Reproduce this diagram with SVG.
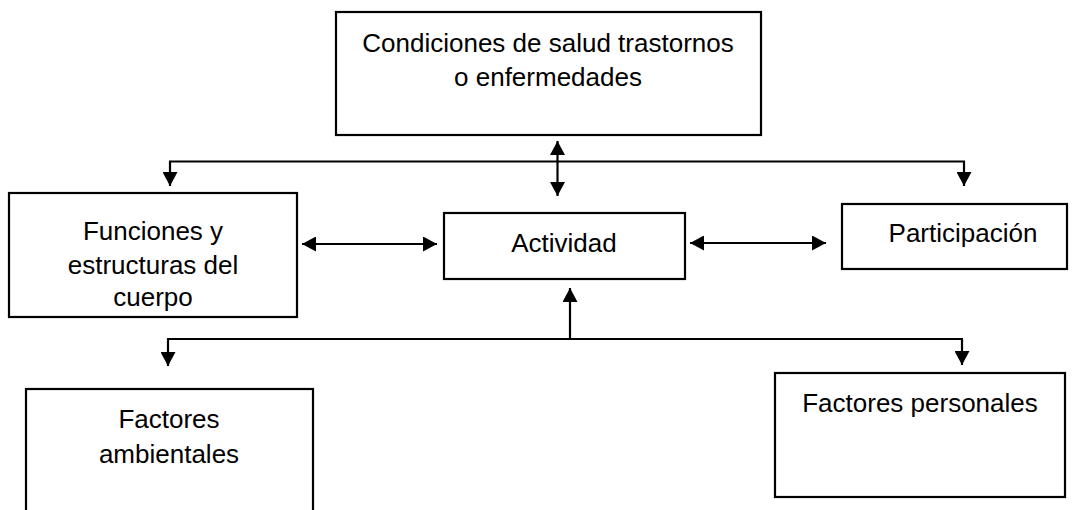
<svg xmlns="http://www.w3.org/2000/svg" width="1075" height="510" viewBox="0 0 1075 510">
<defs>
<marker id="ah" markerUnits="userSpaceOnUse" markerWidth="14" markerHeight="15" refX="14" refY="7.5" orient="auto-start-reverse">
<path d="M0,0 L14,7.5 L0,15 Z" fill="#000"/>
</marker>
<style>
.box{fill:#fff;stroke:#000;stroke-width:2.2}
.lbl{font-family:"Liberation Sans",Arial,sans-serif;font-size:26px;fill:#000;text-anchor:middle}
.ln{fill:none;stroke:#000;stroke-width:2.2}
.arr{fill:none;stroke:#000;stroke-width:2.2;marker-end:url(#ah)}
.darr{fill:none;stroke:#000;stroke-width:2.2;marker-start:url(#ah);marker-end:url(#ah)}
</style>
</defs>
<rect width="1075" height="510" fill="#fff"/>
<g id="connectors">
<path class="ln" d="M169,161.5 H965"/>
<path class="arr" d="M170,161.5 V186"/>
<path class="arr" d="M964,161.5 V186"/>
<path class="darr" d="M557.5,141 V196"/>
<path class="darr" d="M302,244 H437"/>
<path class="darr" d="M690,243 H826"/>
<path class="arr" d="M570,339 V288"/>
<path class="ln" d="M167,339 H963"/>
<path class="arr" d="M168,339 V366"/>
<path class="arr" d="M962,339 V365"/>
</g>
<g id="node-condiciones">
<rect class="box" x="336" y="12" width="425" height="123"/>
<text class="lbl" x="548" y="52">Condiciones de salud trastornos</text>
<text class="lbl" x="548" y="86">o enfermedades</text>
</g>
<g id="node-funciones">
<rect class="box" x="9" y="193" width="288" height="124"/>
<text class="lbl" x="153" y="240">Funciones y</text>
<text class="lbl" x="153" y="274">estructuras del</text>
<text class="lbl" x="153" y="306">cuerpo</text>
</g>
<g id="node-actividad">
<rect class="box" x="444" y="213" width="241" height="66"/>
<text class="lbl" x="564" y="252">Actividad</text>
</g>
<g id="node-participacion">
<rect class="box" x="842" y="204" width="225" height="65"/>
<text class="lbl" x="963" y="242">Participación</text>
</g>
<g id="node-ambientales">
<rect class="box" x="26" y="389" width="287" height="140"/>
<text class="lbl" x="169" y="428">Factores</text>
<text class="lbl" x="169" y="463">ambientales</text>
</g>
<g id="node-personales">
<rect class="box" x="775" y="373" width="290" height="124"/>
<text class="lbl" x="920" y="412">Factores personales</text>
</g>
</svg>
